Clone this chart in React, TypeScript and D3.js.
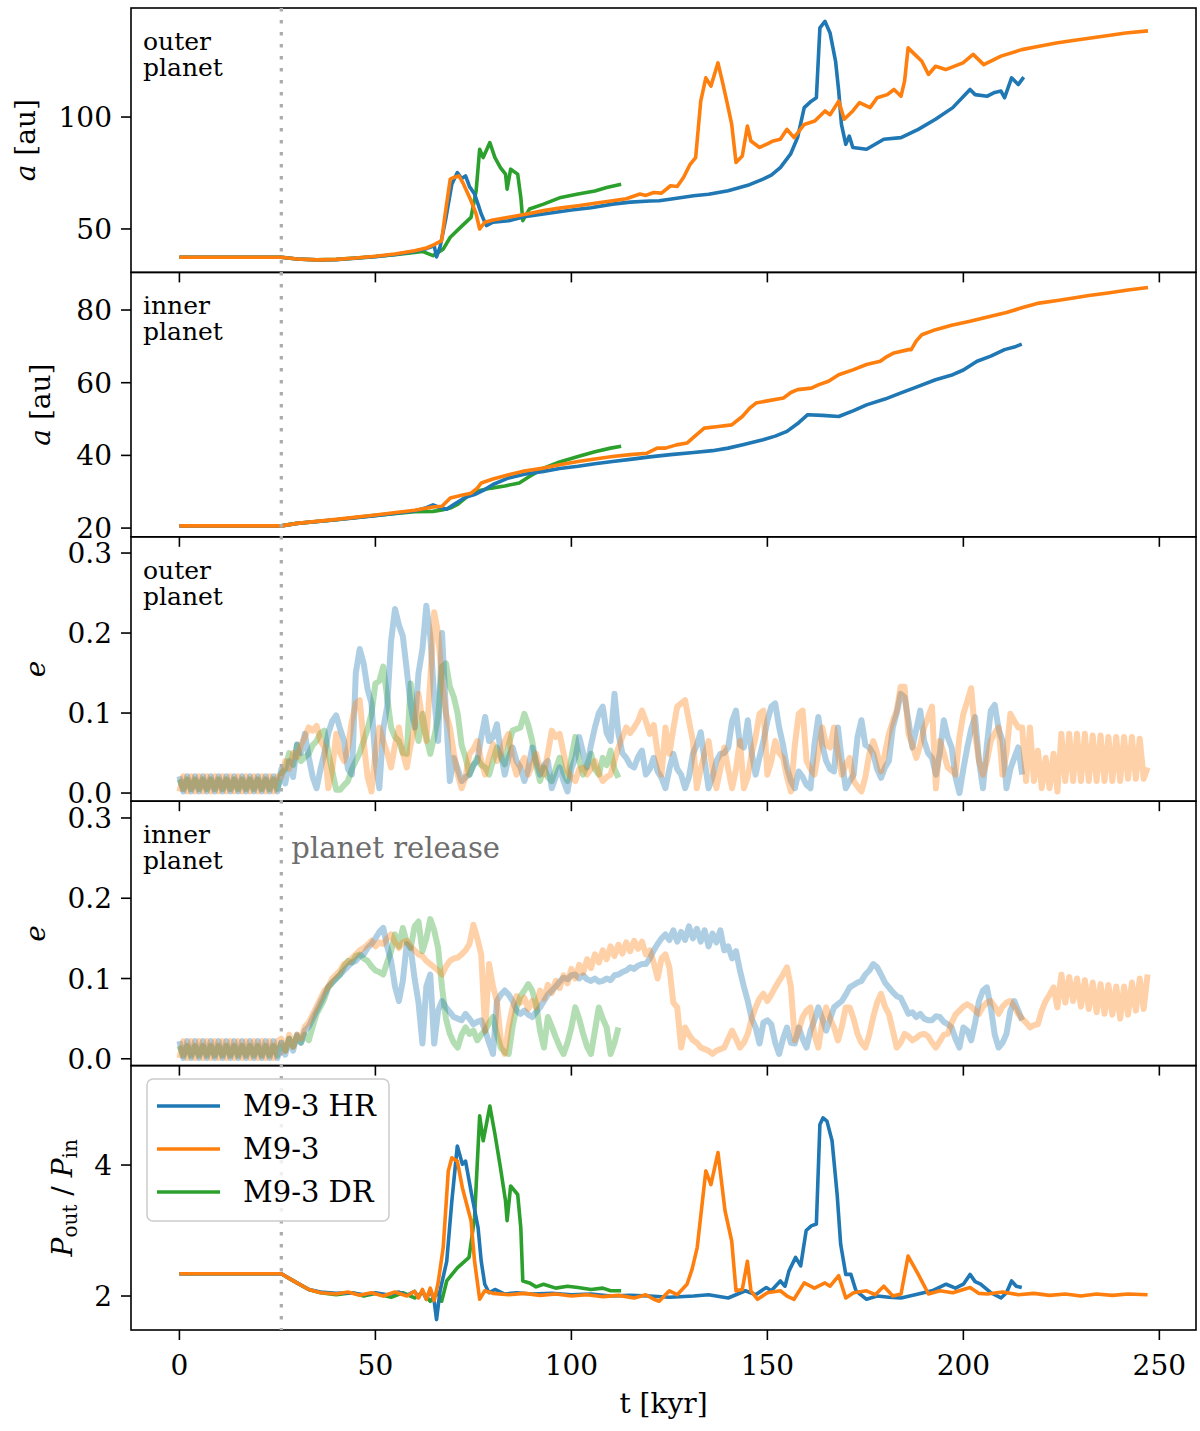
import React from "react";
import * as d3 from "d3";

// ---------------- data ----------------
const seriesNames = ["M9-3 HR", "M9-3", "M9-3 DR"];
const seriesColors = ["#1f77b4", "#ff7f0e", "#2ca02c"];
const drawOrder = [2, 0, 1];
const releaseTime = 26;
const xTickValues = [0, 50, 100, 150, 200, 250];

// semi-major axis of outer planet [t kyr, a au]
const aOuterHR: [number, number][] = [
  [0, 37.4], [26, 37.4], [30, 36.6], [35, 36.2], [40, 36.3], [45, 36.9], [50, 37.6], [55, 38.6], [60, 40], [63, 41.2], [65, 42.5], [65.6, 37.5], [66.5, 42], [68, 55], [69.5, 70], [70.9, 75.2], [72, 72.5], [73, 73.7], [74, 69], [75.3, 65.6], [76.2, 61], [77, 56.7], [78.3, 51.5], [80, 53], [84, 53.7], [88, 55.5], [92.9, 56.7], [100, 58.5], [105, 59.5], [110.5, 61.1], [115, 62], [120, 62.5], [122.4, 62.6], [126, 63.5], [131.2, 64.8], [135, 65.5], [140, 67.1], [145, 69.5], [148.9, 72.3], [151, 74], [153.3, 77.4], [155.9, 83.4], [157.7, 90.8], [159.4, 104.2], [161.2, 107.1], [162.5, 108.6], [163.4, 139.8], [164.7, 142.7], [166, 137.5], [167.4, 124.9], [168.2, 111.6], [168.9, 96.7], [170, 87.8], [170.9, 91.5], [171.8, 86.4], [175.3, 85.6], [179.7, 90.1], [184.1, 90.8], [188.5, 94.5], [192.9, 99], [197.3, 104.2], [201.7, 112.3], [203, 110], [206.1, 109.3], [208, 111], [209.6, 111.6], [210.5, 108.6], [212.3, 117.5], [214, 114.5], [215.4, 117.8],
];
const aOuterM: [number, number][] = [
  [0, 37.4], [26, 37.4], [30, 36.6], [35, 36.2], [40, 36.4], [45, 37], [50, 37.8], [55, 38.8], [60, 40.3], [63, 41.5], [65, 43], [66.9, 44.8], [67.8, 56.7], [69.1, 72.3], [70, 73], [71.3, 73.7], [72.5, 70], [74.4, 62.6], [75.7, 56.7], [76.6, 50], [77.9, 53], [80, 54], [84, 55.2], [88, 56.5], [92.9, 58.2], [97, 59.3], [101.7, 60.4], [106, 61.5], [110.5, 62.6], [114, 63.5], [117.5, 65.6], [119, 65], [121, 66.3], [123, 66], [125.3, 69.3], [127, 69], [128.6, 73], [130.3, 78.9], [131.7, 81.9], [133, 107.1], [134.3, 117.5], [135.6, 113.8], [137.4, 124.2], [138.7, 114.5], [140, 104.2], [140.9, 96.7], [142, 79.7], [143.6, 82.6], [144.9, 96], [145.8, 89.3], [148, 86.4], [150, 88], [151.5, 89.3], [153.3, 90.1], [155, 94.5], [156.8, 90.8], [159.4, 96.7], [162.1, 98.2], [164.7, 102.7], [166, 101], [168.2, 107.1], [169.6, 99], [171.8, 102.7], [173.5, 106.4], [176.2, 104.2], [178, 108.6], [180.6, 110], [182.3, 112.3], [184.1, 109.3], [185, 116], [185.9, 130.9], [187.6, 128], [189.4, 124.9], [191.1, 119], [192.9, 122.7], [195.5, 121.2], [199.9, 124.2], [202.5, 128], [205.2, 123.4], [209.6, 127.2], [214.9, 130.1], [219, 131.5], [223.7, 133.1], [228, 134.2], [232.5, 135.3], [237, 136.4], [241.4, 137.5], [247.1, 138.5],
];
const aOuterDR: [number, number][] = [
  [0, 37.4], [26, 37.4], [30, 36.6], [35, 36.2], [40, 36.4], [45, 37], [50, 37.7], [55, 38.5], [60, 39.5], [62, 40], [64.7, 38.1], [67.3, 41], [69.1, 46.3], [71.7, 50.7], [74.4, 55.2], [75.7, 67], [76.6, 85.6], [77.5, 81.9], [79.2, 88.6], [80.5, 81.9], [81.9, 77.4], [83.2, 74.5], [83.6, 67.8], [84.5, 76.7], [86.3, 74.5], [87.1, 64.1], [87.6, 53.7], [89.3, 58.9], [92.9, 61.1], [97.3, 64.1], [101.7, 65.6], [106, 67], [109, 68.5], [112.7, 70],
];

// semi-major axis of inner planet [t kyr, a au]
const aInnerHR: [number, number][] = [
  [0, 20.6], [26, 20.6], [30, 21.3], [40, 22.3], [50, 23.4], [60, 24.7], [63, 25.6], [64.7, 26.4], [66, 25.8], [68.2, 25.2], [70, 26.5], [73, 28.5], [75.3, 29.2], [77.9, 30.6], [80, 32], [84, 33.8], [88, 34.8], [92.9, 35.6], [97, 36.4], [101.7, 37], [106, 37.7], [110.5, 38.3], [115, 38.9], [120, 39.6], [125.3, 40.2], [131.2, 40.8], [136, 41.3], [140, 42], [144, 43], [148.9, 44.3], [152, 45.3], [155, 46.6], [158, 49], [160.3, 51.2], [164, 51], [168.2, 50.7], [172, 52.3], [175.3, 53.9], [180, 55.5], [184.1, 57.2], [188, 58.8], [192.9, 60.8], [197.3, 62.2], [200, 63.5], [203.5, 65.9], [207, 67.3], [210.5, 69.1], [213, 69.8], [214.9, 70.6],
];
const aInnerM: [number, number][] = [
  [0, 20.6], [26, 20.6], [30, 21.3], [40, 22.4], [50, 23.6], [60, 24.9], [64.7, 25.8], [67, 26], [69.1, 28.3], [72, 29], [74.4, 29.6], [76, 31], [77, 32.4], [80, 33.5], [84, 34.7], [88, 35.7], [92.9, 36.5], [97, 37.4], [101.7, 38.3], [106, 39], [110.5, 39.7], [115, 40.2], [119.3, 40.6], [121.9, 42], [124, 42], [126.8, 42.9], [129.5, 43.4], [131, 44.8], [133.9, 47.5], [137, 47.9], [140.9, 48.4], [143.6, 50.7], [145.5, 53], [147.1, 54.4], [150, 55], [154.1, 55.8], [156, 57.3], [157.7, 58.1], [161.2, 58.5], [163, 59.4], [165.6, 60.4], [168.2, 62.2], [172, 63.6], [175.3, 65], [178.8, 65.9], [180.5, 67.2], [182.3, 68.2], [186, 69.1], [186.7, 69.1], [188, 71.5], [189.4, 73.2], [192.9, 74.6], [197, 75.8], [201.7, 76.9], [207, 78.3], [211, 79.3], [214.9, 80.6], [219.3, 81.9], [224, 82.6], [228.1, 83.3], [232, 84], [236.9, 84.7], [242, 85.5], [247.1, 86.2],
];
const aInnerDR: [number, number][] = [
  [0, 20.6], [26, 20.6], [30, 21.3], [40, 22.3], [50, 23.5], [60, 24.5], [64.7, 24.6], [67, 25], [69.1, 25.5], [71, 26.5], [73.5, 28.7], [76, 30.2], [79.6, 31], [83, 31.6], [86.7, 32.4], [89, 34], [92.9, 36.5], [97, 38.2], [101.7, 39.7], [106, 41], [110, 42], [112.7, 42.5],
];

// eccentricity of outer planet, one value per kyr starting at t = 0
const eOuterHR: number[] = [
  .021, .002, .021, .002, .021, .002, .021, .002, .021, .002,
  .021, .002, .021, .002, .021, .002, .021, .002, .021, .002,
  .021, .002, .021, .002, .021, .002, .03, .012, .04, .02,
  .061, .05, .074, .045, .02, .006, .03, .05, .075, .09,
  .097, .08, .065, .03, .023, .15, .18, .162, .13, .112,
  .04, .006, .08, .108, .19, .23, .21, .196, .154, .11,
  .082, .15, .18, .234, .196, .12, .065, .2, .1, .015,
  .044, .03, .015, .02, .023, .035, .04, .07, .095, .065,
  .07, .086, .05, .023, .045, .057, .04, .032, .015, .03,
  .057, .04, .023, .035, .04, .006, .02, .032, .015, .002,
  .03, .044, .07, .05, .032, .06, .082, .1, .108, .075,
  .065, .124, .074, .05, .044, .035, .032, .045, .053, .023,
  .03, .044, .027, .019, .006, .03, .049, .03, .023, .006,
  .02, .049, .06, .076, .04, .006, .02, .04, .049, .05,
  .057, .09, .103, .06, .057, .091, .05, .023, .045, .065,
  .09, .108, .112, .082, .06, .032, .015, .006, .027, .02,
  .01, .006, .06, .095, .06, .04, .03, .027, .082, .04,
  .006, .015, .023, .07, .091, .06, .057, .049, .03, .019,
  .032, .04, .082, .1, .124, .12, .09, .057, .08, .103,
  .065, .05, .044, .023, .05, .091, .07, .057, .02, .0,
  .03, .057, .08, .095, .04, .006, .06, .103, .11, .08,
  .065, .006, .03, .044, .057, .023,
];
const eOuterM: number[] = [
  .002, .021, .002, .021, .002, .021, .002, .021, .002, .021,
  .002, .021, .002, .021, .002, .021, .002, .021, .002, .021,
  .002, .021, .002, .021, .002, .021, .02, .04, .03, .05,
  .045, .06, .07, .082, .078, .084, .065, .057, .006, .03,
  .074, .05, .04, .057, .09, .112, .116, .065, .02, .002,
  .05, .082, .065, .05, .032, .06, .082, .05, .032, .06,
  .082, .124, .09, .065, .141, .226, .2, .14, .099, .082,
  .05, .023, .006, .02, .049, .055, .065, .04, .023, .045,
  .061, .04, .05, .065, .074, .04, .023, .035, .044, .023,
  .035, .049, .03, .023, .05, .078, .07, .074, .05, .027,
  .02, .015, .03, .032, .023, .03, .04, .025, .015, .02,
  .023, .04, .057, .07, .082, .075, .082, .09, .103, .09,
  .074, .085, .05, .023, .082, .049, .08, .108, .112, .116,
  .09, .065, .006, .03, .049, .065, .03, .006, .03, .057,
  .03, .006, .03, .065, .006, .02, .049, .07, .099, .103,
  .023, .04, .065, .05, .044, .02, .002, .06, .099, .103,
  .04, .03, .023, .05, .082, .06, .057, .082, .05, .023,
  .035, .044, .015, .008, .002, .02, .049, .065, .05, .027,
  .05, .074, .09, .103, .133, .133, .074, .06, .044, .06,
  .082, .095, .108, .006, .065, .05, .032, .028, .023, .07,
  .099, .115, .131, .074, .04, .023, .04, .065, .075, .082,
  .023, .05, .099, .09, .082, .082, .015, .082, .015, .053,
  .006, .044, .006, .049, .002, .074, .015, .074, .015, .074,
  .015, .074, .015, .072, .015, .072, .015, .07, .015, .07,
  .015, .07, .018, .07, .018, .068, .018, .032,
];
const eOuterDR: number[] = [
  .017, .005, .017, .005, .017, .005, .017, .005, .017, .005,
  .017, .005, .017, .005, .017, .005, .017, .005, .017, .005,
  .017, .005, .017, .005, .017, .005, .025, .03, .05, .035,
  .06, .04, .045, .049, .06, .065, .075, .078, .05, .027,
  .004, .004, .01, .015, .03, .04, .05, .065, .08, .099,
  .137, .14, .158, .12, .082, .07, .065, .05, .049, .137,
  .09, .065, .099, .07, .049, .07, .095, .158, .162, .133,
  .12, .099, .06, .044, .023, .035, .044, .035, .032, .023,
  .04, .057, .045, .036, .06, .078, .08, .082, .099, .085,
  .065, .035, .015, .032, .02, .015, .03, .044, .025, .015,
  .044, .07, .04, .023, .035, .049, .03, .023, .044, .035,
  .053, .03, .019,
];

// eccentricity of inner planet, one value per kyr starting at t = 0
const eInnerHR: number[] = [
  .022, .001, .022, .001, .022, .001, .022, .001, .022, .001,
  .022, .001, .022, .001, .022, .001, .022, .001, .022, .001,
  .022, .001, .022, .001, .022, .001, .02, .005, .025, .01,
  .03, .02, .035, .04, .05, .06, .07, .08, .09, .095,
  .1, .105, .11, .115, .12, .122, .128, .13, .138, .143,
  .15, .158, .163, .14, .122, .09, .072, .097, .143, .138,
  .1, .07, .019, .09, .105, .019, .06, .072, .064, .058,
  .052, .05, .048, .056, .05, .043, .046, .048, .035, .02,
  .006, .072, .08, .085, .08, .072, .06, .056, .06, .055,
  .052, .058, .064, .072, .08, .085, .09, .096, .101, .099,
  .104, .105, .1, .104, .099, .097, .1, .096, .097, .1,
  .098, .104, .105, .108, .11, .114, .112, .116, .118, .118,
  .125, .135, .143, .15, .155, .148, .16, .146, .158, .148,
  .165, .15, .162, .146, .16, .14, .156, .145, .16, .135,
  .14, .125, .134, .11, .09, .072, .05, .039, .019, .045,
  .048, .043, .02, .006, .025, .039, .02, .019, .039, .025,
  .014, .035, .048, .064, .05, .035, .05, .064, .068, .072,
  .08, .089, .092, .095, .097, .105, .11, .118, .114, .105,
  .095, .089, .083, .078, .076, .066, .056, .058, .052, .056,
  .05, .048, .048, .053, .052, .046, .043, .039, .025, .014,
  .039, .035, .023, .045, .072, .085, .089, .064, .03, .014,
  .02, .031, .06, .072, .06, .048,
];
const eInnerM: number[] = [
  .001, .022, .001, .022, .001, .022, .001, .022, .001, .022,
  .001, .022, .001, .022, .001, .022, .001, .022, .001, .022,
  .001, .022, .001, .022, .001, .022, .025, .01, .03, .015,
  .03, .025, .04, .045, .055, .065, .075, .085, .09, .1,
  .105, .11, .118, .12, .125, .13, .135, .138, .142, .147,
  .14, .145, .143, .15, .155, .145, .138, .145, .147, .14,
  .135, .13, .128, .122, .118, .114, .11, .105, .115, .122,
  .125, .126, .13, .135, .143, .167, .15, .13, .035, .118,
  .09, .072, .023, .006, .04, .064, .078, .07, .076, .062,
  .072, .064, .085, .075, .092, .082, .097, .088, .104, .094,
  .112, .1, .117, .107, .124, .113, .13, .12, .135, .124,
  .14, .128, .142, .131, .145, .134, .147, .137, .146, .13,
  .135, .12, .1, .125, .13, .114, .07, .064, .014, .039,
  .03, .023, .02, .014, .012, .01, .006, .01, .012, .014,
  .025, .035, .025, .014, .02, .031, .05, .064, .075, .081,
  .072, .08, .089, .097, .105, .114, .09, .023, .035, .052,
  .06, .064, .03, .014, .045, .064, .05, .039, .023, .04,
  .064, .064, .05, .031, .02, .014, .03, .052, .07, .081,
  .065, .056, .035, .014, .02, .031, .028, .023, .026, .03,
  .031, .028, .02, .014, .022, .03, .031, .045, .055, .06,
  .065, .068, .065, .06, .056, .065, .07, .072, .065, .056,
  .065, .07, .072, .065, .056, .05, .045, .039, .042, .043,
  .06, .072, .08, .089, .064, .105, .07, .102, .072, .1,
  .065, .098, .062, .095, .058, .093, .056, .092, .055, .09,
  .05, .09, .055, .095, .06, .1, .062, .105,
];
const eInnerDR: number[] = [
  .016, .004, .016, .004, .016, .004, .016, .004, .016, .004,
  .016, .004, .016, .004, .016, .004, .016, .004, .016, .004,
  .016, .004, .016, .004, .016, .004, .02, .01, .025, .015,
  .028, .02, .03, .023, .04, .056, .065, .075, .089, .095,
  .1, .105, .115, .122, .12, .128, .13, .125, .122, .115,
  .11, .108, .105, .12, .134, .155, .14, .163, .145, .138,
  .165, .171, .134, .15, .174, .16, .138, .089, .05, .031,
  .02, .014, .03, .039, .031, .035, .023, .03, .035, .045,
  .052, .03, .014, .008, .006, .04, .064, .078, .085, .093,
  .085, .068, .035, .014, .052, .04, .027, .015, .006, .02,
  .039, .064, .05, .031, .015, .006, .035, .064, .05, .039,
  .006, .02, .039,
];

// period ratio P_out / P_in [t kyr, ratio]
const pRatioHR: [number, number][] = [
  [0, 2.34], [26, 2.34], [28, 2.27], [30, 2.2], [33, 2.1], [36, 2.06], [40, 2.04], [44, 2.05], [47, 2.02], [50, 2.05], [53, 2.02], [56, 2.06], [58, 2.01], [60, 2.07], [61, 1.98], [62, 2.08], [63, 1.95], [64, 2.1], [65, 1.92], [65.6, 1.64], [66.5, 2.08], [68.2, 2.53], [69.5, 3.45], [70.9, 4.29], [72.2, 4.01], [73, 4.06], [74.4, 3.6], [76.2, 3.04], [77, 2.53], [77.9, 2.18], [79, 2.05], [80.5, 2.1], [83, 2.03], [86, 2.05], [90, 2.03], [95, 2.04], [100, 2.02], [105, 2.03], [110, 2.0], [115, 2.01], [120, 2.0], [125, 1.98], [131.2, 2.0], [135, 2.02], [140, 1.97], [144.4, 2.08], [147, 2.02], [149.7, 2.13], [151, 2.08], [153.3, 2.23], [154.5, 2.15], [155.5, 2.38], [157.2, 2.59], [158.5, 2.46], [159.9, 3.0], [161.2, 3.07], [162.5, 3.1], [163.4, 4.62], [164.2, 4.72], [165.2, 4.67], [166.5, 4.37], [167.8, 3.55], [168.7, 2.79], [170, 2.33], [171.3, 2.33], [172.6, 2.08], [175.3, 1.95], [178, 2.0], [181, 1.98], [184.1, 1.97], [188.5, 2.03], [192, 2.08], [195.6, 2.18], [198, 2.12], [200, 2.18], [201.7, 2.33], [203, 2.22], [204.4, 2.18], [207, 2.05], [209.6, 1.97], [211, 2.05], [212.3, 2.23], [213.5, 2.15], [214.9, 2.13],
];
const pRatioM: [number, number][] = [
  [0, 2.34], [26, 2.34], [28, 2.27], [30, 2.2], [33, 2.1], [36, 2.05], [40, 2.03], [43, 2.06], [46, 2.01], [49, 2.05], [52, 2.0], [55, 2.06], [58, 2.0], [60, 2.07], [61, 1.97], [62, 2.1], [63, 1.95], [64, 2.12], [65, 1.93], [66, 2.2], [67.3, 2.74], [68.6, 3.91], [69.5, 4.11], [70.9, 4.06], [72.2, 3.65], [74.4, 3.15], [75.3, 2.53], [76.6, 1.95], [77.9, 2.08], [80, 2.04], [84, 2.02], [88, 2.04], [92, 2.01], [96, 2.03], [100, 2.0], [104, 2.02], [108, 1.99], [112, 2.01], [116, 1.97], [119, 2.02], [121, 1.95], [122.4, 1.92], [125, 2.08], [127, 2.02], [129.5, 2.18], [130.8, 2.41], [132.1, 2.74], [134.3, 3.91], [135.6, 3.7], [137.4, 4.19], [139.2, 3.3], [140.9, 2.84], [142, 2.08], [143.6, 2.1], [144.9, 2.53], [145.8, 2.08], [147.5, 1.95], [150, 2.05], [153.3, 2.08], [155, 2.0], [156.8, 1.95], [159.4, 2.2], [162, 2.12], [164.7, 2.2], [166, 2.15], [168.2, 2.31], [170, 1.97], [172, 2.05], [175.3, 2.08], [177.5, 2.02], [179.7, 2.15], [182, 2.0], [184.1, 2.03], [185.9, 2.61], [188.5, 2.33], [191.1, 2.03], [194, 2.08], [197.3, 2.05], [200, 2.1], [201.7, 2.13], [204, 2.04], [206.1, 2.03], [210, 2.06], [214, 2.02], [218, 2.04], [222, 2.01], [226, 2.03], [230, 2.0], [234, 2.03], [238, 2.01], [242, 2.03], [247, 2.02],
];
const pRatioDR: [number, number][] = [
  [0, 2.34], [26, 2.34], [28, 2.27], [30, 2.2], [33, 2.1], [36, 2.05], [40, 2.02], [44, 2.05], [47, 2.0], [50, 2.04], [54, 1.98], [57, 2.05], [60, 1.97], [62, 2.06], [64, 1.92], [66, 2.05], [66.9, 1.92], [68.2, 2.23], [70.9, 2.43], [73.9, 2.59], [75.3, 3.2], [76.6, 4.75], [77.5, 4.37], [79.2, 4.9], [80.5, 4.47], [81.9, 3.96], [83.2, 3.45], [83.6, 3.15], [84.5, 3.68], [86.3, 3.55], [87.1, 3.04], [87.6, 2.23], [89.3, 2.2], [91, 2.14], [92.9, 2.18], [96, 2.12], [99, 2.15], [101.7, 2.13], [105, 2.1], [108, 2.12], [110, 2.08], [112.7, 2.08],
];

const aOuterTicks = [50, 100];
const aInnerTicks = [20, 40, 60, 80];
const eTicks = [0, 0.1, 0.2, 0.3];
const pTicks = [2, 4];

// ---------------- chart ----------------
const FONT = "DejaVu Serif";

type Pt = [number, number];
const perKyr = (arr: number[]): Pt[] => arr.map((v, i) => [i, v] as Pt);

export default function App() {
  const W = 1200;
  const H = 1431;
  const left = 131;
  const right = 1196;
  const top = 8;
  const bottom = 1330;
  const ph = (bottom - top) / 5;
  const x = d3.scaleLinear().domain([-12.35, 259.35]).range([left, right]);

  const panels = [
    { domain: [30.6, 148.7], ticks: aOuterTicks, fmt: (v: number) => String(v), data: [aOuterHR, aOuterM, aOuterDR], faint: false, label: "a", labelX: 35, note: ["outer", "planet"] },
    { domain: [17.6, 90.35], ticks: aInnerTicks, fmt: (v: number) => String(v), data: [aInnerHR, aInnerM, aInnerDR], faint: false, label: "a", labelX: 50, note: ["inner", "planet"] },
    { domain: [-0.0102, 0.3203], ticks: eTicks, fmt: (v: number) => v.toFixed(1), data: [perKyr(eOuterHR), perKyr(eOuterM), perKyr(eOuterDR)], faint: true, label: "e", labelX: 45, note: ["outer", "planet"] },
    { domain: [-0.0085, 0.3209], ticks: eTicks, fmt: (v: number) => v.toFixed(1), data: [perKyr(eInnerHR), perKyr(eInnerM), perKyr(eInnerDR)], faint: true, label: "e", labelX: 45, note: ["inner", "planet"] },
    { domain: [1.481, 5.518], ticks: pTicks, fmt: (v: number) => String(v), data: [pRatioHR, pRatioM, pRatioDR], faint: false, label: "P", labelX: 72, note: null as string[] | null },
  ];

  const tickLen = 10;
  const fs = 28;

  return (
    <svg width={W} height={H} style={{ position: "absolute", left: 0, top: 0, background: "#fff" }} fontFamily={FONT}>
      <rect x={0} y={0} width={W} height={H} fill="#fff" />
      <defs>
        {panels.map((p, i) => (
          <clipPath id={`clip${i}`} key={i}>
            <rect x={left} y={top + i * ph} width={right - left} height={ph} />
          </clipPath>
        ))}
      </defs>
      {panels.map((p, i) => {
        const y0 = top + i * ph;
        const y1 = y0 + ph;
        const y = d3.scaleLinear().domain(p.domain).range([y1, y0]);
        const line = d3.line<Pt>().x((d) => x(d[0])).y((d) => y(d[1]));
        const yc = (y0 + y1) / 2;
        return (
          <g key={i}>
            <g clipPath={`url(#clip${i})`}>
              {drawOrder.map((k) => (
                <path
                  key={k}
                  d={line(p.data[k] as Pt[]) || ""}
                  fill="none"
                  stroke={seriesColors[k]}
                  strokeWidth={p.faint ? 6 : 3.6}
                  strokeOpacity={p.faint ? 0.36 : 1}
                  strokeLinejoin="round"
                  strokeLinecap="butt"
                />
              ))}
            </g>
            {/* y ticks */}
            {p.ticks.map((t) => (
              <g key={t}>
                <line x1={left - tickLen} x2={left} y1={y(t)} y2={y(t)} stroke="#000" strokeWidth={1.6} />
                <text x={left - tickLen - 9} y={y(t)} dy="0.36em" textAnchor="end" fontSize={fs} fill="#000">
                  {p.fmt(t)}
                </text>
              </g>
            ))}
            {/* x ticks */}
            {xTickValues.map((t) => (
              <line key={t} x1={x(t)} x2={x(t)} y1={y1} y2={y1 + tickLen} stroke="#000" strokeWidth={1.6} />
            ))}
            {/* y label */}
            {p.label === "a" && (
              <text transform={`translate(${p.labelX},${yc}) rotate(-90)`} textAnchor="middle" fontSize={fs} fill="#000">
                <tspan fontStyle="italic">a</tspan>
                <tspan> [au]</tspan>
              </text>
            )}
            {p.label === "e" && (
              <text transform={`translate(${p.labelX},${yc}) rotate(-90)`} textAnchor="middle" fontSize={fs} fill="#000" fontStyle="italic">
                e
              </text>
            )}
            {p.label === "P" && (
              <text transform={`translate(${p.labelX},${yc}) rotate(-90)`} textAnchor="middle" fontSize={fs} fill="#000">
                <tspan fontStyle="italic">P</tspan>
                <tspan fontSize={20} dy={5}>out</tspan>
                <tspan dy={-5}> / </tspan>
                <tspan fontStyle="italic">P</tspan>
                <tspan fontSize={20} dy={5}>in</tspan>
              </text>
            )}
            {p.note && (
              <text x={143} y={y0 + 42} fontSize={25} fill="#000">
                <tspan x={143}>{p.note[0]}</tspan>
                <tspan x={143} dy={26}>{p.note[1]}</tspan>
              </text>
            )}
            <rect x={left} y={y0} width={right - left} height={ph} fill="none" stroke="#000" strokeWidth={1.6} />
          </g>
        );
      })}

      {/* planet release line */}
      <line x1={x(releaseTime)} x2={x(releaseTime)} y1={top} y2={bottom} stroke="#adadad" strokeWidth={3.3} strokeDasharray="3.4 8.6" />
      <text x={x(releaseTime) + 10} y={858} fontSize={29} fill="#6e6e6e">planet release</text>

      {/* x tick labels */}
      {xTickValues.map((t) => (
        <text key={t} x={x(t)} y={1375} textAnchor="middle" fontSize={fs} fill="#000">{t}</text>
      ))}
      <text x={(left + right) / 2} y={1413} textAnchor="middle" fontSize={fs} fill="#000">t [kyr]</text>

      {/* legend */}
      <g>
        <rect x={147} y={1079} width={242} height={142} rx={6} fill="#fff" fillOpacity={0.8} stroke="#cccccc" strokeWidth={1.5} />
        {seriesNames.map((n, k) => (
          <g key={n}>
            <line x1={157} x2={220} y1={1106 + k * 43} y2={1106 + k * 43} stroke={seriesColors[k]} strokeWidth={3.4} />
            <text x={243} y={1106 + k * 43} dy="0.36em" fontSize={29} fill="#000">{n}</text>
          </g>
        ))}
      </g>
    </svg>
  );
}
